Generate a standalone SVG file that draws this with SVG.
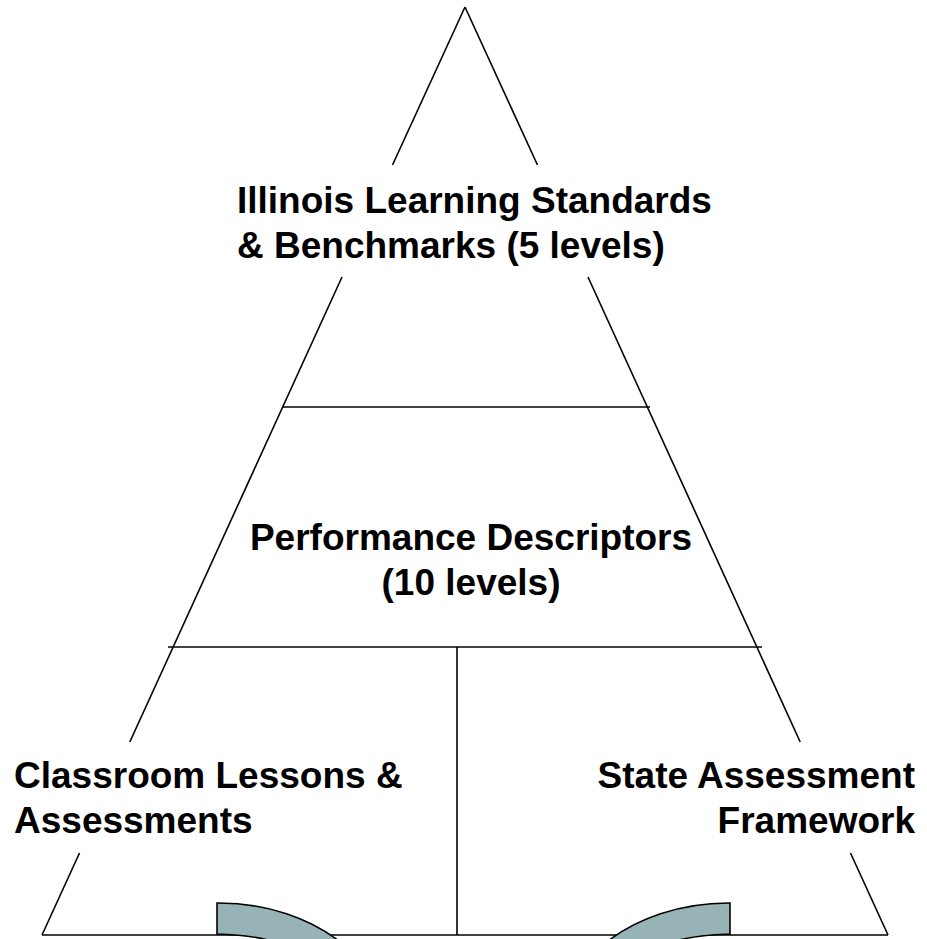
<svg xmlns="http://www.w3.org/2000/svg" width="927" height="939" viewBox="0 0 927 939">
<style>
.ln{stroke:#000;stroke-width:1.6;fill:none;stroke-linecap:butt}
.t{font-family:"Liberation Sans",Arial,sans-serif;font-weight:bold;font-size:37px;fill:#000}
.arc{fill:#97b3b6;stroke:#000;stroke-width:1.6;stroke-linejoin:miter}
</style>
<rect width="927" height="939" fill="#fff"/>
<g id="pyramid-outline">
<line class="ln" x1="465" y1="7" x2="392.5" y2="165"/>
<line class="ln" x1="465" y1="7" x2="537.5" y2="165"/>
<line class="ln" x1="342" y1="277" x2="129.8" y2="742"/>
<line class="ln" x1="588" y1="277" x2="800.2" y2="742"/>
<line class="ln" x1="79.5" y1="853" x2="42" y2="935"/>
<line class="ln" x1="850.5" y1="853" x2="888" y2="935"/>
<line class="ln" x1="282" y1="407" x2="650" y2="407"/>
<line class="ln" x1="168" y1="647" x2="762" y2="647"/>
<line class="ln" x1="457" y1="647" x2="457" y2="935"/>
<line class="ln" x1="42" y1="935" x2="888" y2="935"/>
</g>
<g id="node-standards">
<text class="t" x="237" y="213">Illinois Learning Standards</text>
<text class="t" x="237" y="258">&amp; Benchmarks (5 levels)</text>
</g>
<g id="node-descriptors">
<text class="t" x="471" y="550" text-anchor="middle">Performance Descriptors</text>
<text class="t" x="471" y="595" text-anchor="middle">(10 levels)</text>
</g>
<g id="node-classroom">
<text class="t" x="14" y="788">Classroom Lessons &amp;</text>
<text class="t" x="14" y="833">Assessments</text>
</g>
<g id="node-state">
<text class="t" x="915" y="788" text-anchor="end">State Assessment</text>
<text class="t" x="915" y="833" text-anchor="end">Framework</text>
</g>
<g id="connectors">
<path class="arc" d="M217,903 A169,127 0 0 1 344,945 L 282,945 C 268,938 248,935 217,934 Z"/>
<path class="arc" d="M730,903 A169,127 0 0 0 603,945 L 665,945 C 679,938 699,935 730,934 Z"/>
</g>
</svg>
